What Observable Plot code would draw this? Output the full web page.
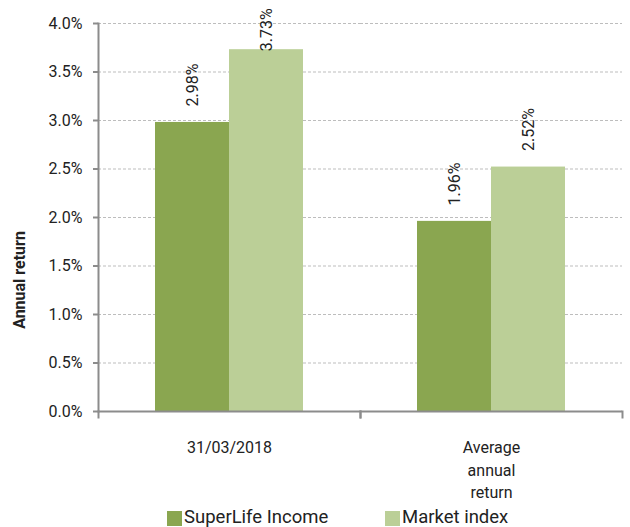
<!DOCTYPE html>
<html>
<head>
<meta charset="utf-8">
<script src="https://cdn.jsdelivr.net/npm/d3@7"></script>
<script src="https://cdn.jsdelivr.net/npm/@observablehq/plot@0.6"></script>
<style>
  html, body { margin: 0; padding: 0; background: #fff; }
  body { width: 630px; height: 527px; overflow: hidden; font-family: Roboto, sans-serif; }
  #legend { position: relative; height: 27px; }
  .item { position: absolute; top: 9px; display: flex; align-items: flex-start; font-size: 18.5px; color: #222; line-height: 17px; }
  .sw { width: 15px; height: 15px; margin-right: 2px; margin-top: 2px; }
</style>
</head>
<body>
<div id="chart"></div>
<div id="legend"></div>
<script>
const categories = ["31/03/2018", "Average annual return"];
const categoryLabels = ["31/03/2018", "Average\nannual\nreturn"];
const series = ["SuperLife Income", "Market index"];
const superLifeIncome = [2.98, 1.96];
const marketIndex = [3.73, 2.52];
const yTicks = [0, 0.5, 1, 1.5, 2, 2.5, 3, 3.5, 4];
const colors = ["#8aa650", "#bbcf97"];
const yLabel = "Annual return";

const rows = categories.flatMap((c, i) => [
  {category: c, series: series[0], value: superLifeIncome[i]},
  {category: c, series: series[1], value: marketIndex[i]}
]);
const catRows = categories.map((c, i) => ({category: c, label: categoryLabels[i]}));
const labelCap = 3.55; // labels are kept inside the chart area near the top

const axisColor = "#8c8c8c";

const chart = Plot.plot({
  width: 630,
  height: 500,
  marginLeft: 97,
  marginRight: 8,
  marginTop: 23,
  marginBottom: 89,
  style: {fontFamily: "Roboto, sans-serif", fontSize: "16px", color: "#222", background: "white", overflow: "visible"},
  fx: {domain: categories, padding: 0, axis: null},
  x: {domain: series, paddingInner: 0, paddingOuter: 0.753, axis: null},
  y: {domain: [0, 4], axis: null},
  color: {domain: series, range: colors},
  marks: [
    Plot.gridY({ticks: yTicks.filter(t => t > 0), stroke: "#bdbdbd", strokeOpacity: 1, strokeDasharray: "3,2", strokeWidth: 1}),
    Plot.barY(rows, {fx: "category", x: "series", y: "value", fill: "series"}),
    Plot.ruleY([0], {stroke: axisColor, strokeWidth: 2}),
    Plot.frame({anchor: "left", facetAnchor: "left", stroke: axisColor, strokeWidth: 2}),
    Plot.frame({anchor: "left", insetTop: 388, insetBottom: -6, stroke: axisColor, strokeWidth: 2}),
    Plot.frame({anchor: "right", insetTop: 388, insetBottom: -6, stroke: axisColor, strokeWidth: 2}),
    Plot.axisY({ticks: yTicks, tickFormat: d => d.toFixed(1) + "%", tickSize: 5, tickPadding: 11,
      stroke: axisColor, strokeWidth: 2, fill: "#222", fontSize: 16, label: null}),
    Plot.text(rows, {fx: "category", x: "series", y: d => Math.min(d.value, labelCap),
      text: d => d.value.toFixed(2) + "%", rotate: -90, textAnchor: "start", dy: -16, fontSize: 16, fill: "#222"}),
    Plot.text(catRows, {fx: "category", text: "label", frameAnchor: "bottom", lineAnchor: "top",
      dy: 26, lineHeight: 1.4, fontSize: 16, fill: "#222"})
  ]
});
document.getElementById("chart").appendChild(chart);

// y-axis title
d3.select(chart).append("text")
  .attr("transform", "translate(19,280) rotate(-90)")
  .attr("text-anchor", "middle")
  .attr("dy", "0.35em")
  .attr("font-family", "Roboto, sans-serif")
  .attr("font-size", 16)
  .attr("font-weight", "bold")
  .attr("fill", "#222")
  .text(yLabel);

const legend = document.getElementById("legend");
const lefts = [167, 385];
series.forEach((s, i) => {
  const item = document.createElement("div");
  item.className = "item";
  item.style.left = lefts[i] + "px";
  const sw = document.createElement("div");
  sw.className = "sw";
  sw.style.background = colors[i];
  const t = document.createElement("span");
  t.textContent = s;
  item.appendChild(sw);
  item.appendChild(t);
  legend.appendChild(item);
});
</script>
</body>
</html>
